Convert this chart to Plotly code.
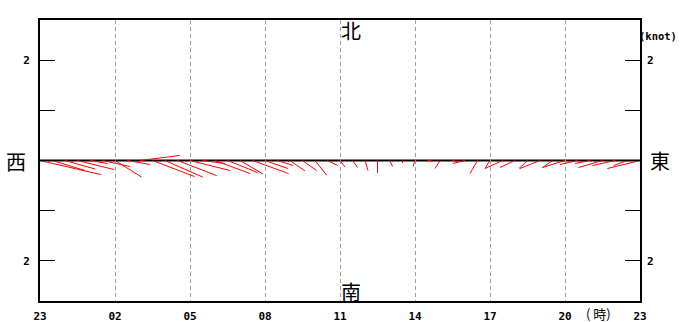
import plotly.graph_objects as go

# ---- data ----
hours = [i * 0.5 for i in range(49)]  # 23:00 .. 23:00 next day, every 30 min
u_east = [1.21, 0.65, 0.60, 0.73, 0.35, 0.55, 0.53, 0.45, 0.79, 0.84,
          0.75, 0.78, 0.80, 0.45, 0.70, 0.60, 0.46, 0.72, 0.46, 0.31,
          0.30, 0.28, 0.23, 0.20, 0.10, 0.10, 0.06, 0.00, 0.05, 0.00,
          -0.04, 0.10, -0.10, 0.10, -0.24, -0.15, -0.10, -0.35, -0.30, -0.17,
          -0.40, -0.20, -0.45, -0.35, -0.30, -0.48, -0.45, -0.28, -0.65]
v_north = [-0.28, -0.20, -0.17, -0.18, -0.06, -0.12, -0.33, -0.08, 0.10, -0.32,
           -0.33, -0.30, -0.20, -0.06, -0.26, -0.24, -0.27, -0.26, -0.16, -0.10,
           -0.21, -0.20, -0.29, -0.10, -0.13, -0.14, -0.20, -0.25, -0.12, -0.05,
           -0.12, -0.01, -0.16, -0.02, -0.06, -0.26, -0.16, -0.16, -0.14, -0.16,
           -0.16, -0.14, -0.14, -0.08, -0.06, -0.14, -0.10, -0.10, -0.16]
xtick_vals = [0, 3, 6, 9, 12, 15, 18, 21, 24]
xtick_text = ["23", "02", "05", "08", "11", "14", "17", "20", "23"]
ytick_vals = [-2, -1, 0, 1, 2]
ytick_text = ["2", "", "", "", "2"]

# ---- layout geometry ----
W, H = 680, 322
ML, MR, MT, MB = 40, 40, 20, 21
XR = [0, 24]
YR = [-2.8, 2.8]
px_per_x = (W - ML - MR) / (XR[1] - XR[0])
px_per_y = (H - MT - MB) / (YR[1] - YR[0])
xscale = px_per_y / px_per_x  # hours per knot so sticks keep true direction

sx, sy = [], []
for t, u, v in zip(hours, u_east, v_north):
    sx += [t, t + u * xscale, None]
    sy += [0, v, None]

fig = go.Figure()
fig.add_trace(go.Scatter(x=sx, y=sy, mode="lines",
                         line=dict(color="#ff0000", width=1),
                         hoverinfo="skip", showlegend=False))
fig.add_trace(go.Scatter(x=[0], y=[0], yaxis="y2", mode="markers",
                         marker=dict(opacity=0), hoverinfo="skip", showlegend=False))

tickfont = dict(family="DejaVu Sans Mono", size=11, color="black", weight="bold")
fig.update_layout(
    width=W, height=H,
    margin=dict(l=ML, r=MR, t=MT, b=MB, pad=0, autoexpand=False),
    paper_bgcolor="white", plot_bgcolor="white",
    showlegend=False,
    xaxis=dict(range=XR, tickvals=xtick_vals, ticktext=xtick_text,
               showgrid=True, gridcolor="#a0a0a0", griddash="4px,3px", gridwidth=1,
               showline=True, linecolor="black", linewidth=2, mirror=True,
               ticks="", zeroline=False, tickfont=tickfont, fixedrange=True,
               automargin=False, ticklabelstandoff=4),
    yaxis=dict(range=YR, tickvals=ytick_vals, ticktext=ytick_text,
               showgrid=False, zeroline=False,
               showline=True, linecolor="black", linewidth=2, mirror=True,
               ticks="inside", ticklen=15, tickcolor="black", tickwidth=1,
               tickfont=tickfont, ticklabelstandoff=6, fixedrange=True,
               automargin=False),
    yaxis2=dict(range=YR, overlaying="y", side="right", tickvals=ytick_vals,
                ticktext=ytick_text, showgrid=False, zeroline=False,
                ticks="inside", ticklen=15, tickcolor="black", tickwidth=1,
                tickfont=tickfont, ticklabelstandoff=6, fixedrange=True,
                automargin=False),
    shapes=[dict(type="line", xref="paper", yref="y", x0=0, x1=1, y0=0, y1=0,
                 line=dict(color="black", width=2), layer="below")],
)

def pxp(px, py):
    return (px - ML) / (W - ML - MR), (H - MB - py) / (H - MT - MB)

cjk = dict(family="Noto Sans CJK JP", size=20, color="black")
for txt, px, py in [("西", 16, 161), ("東", 660, 160), ("北", 351, 31), ("南", 351, 291)]:
    x, y = pxp(px, py)
    fig.add_annotation(text=txt, x=x, y=y, xref="paper", yref="paper",
                       showarrow=False, font=cjk, xanchor="center", yanchor="middle")

x, y = pxp(678, 36)
fig.add_annotation(text="(knot)", x=x, y=y, xref="paper", yref="paper", showarrow=False,
                   font=dict(family="DejaVu Sans Mono", size=10.5, color="black", weight="bold"),
                   xanchor="right", yanchor="middle", borderpad=0)
x, y = pxp(598, 313)
fig.add_annotation(text="( 時)", x=x, y=y, xref="paper", yref="paper", showarrow=False,
                   font=dict(family="Noto Sans CJK JP", size=13, color="black"),
                   xanchor="center", yanchor="middle")

fig.write_html("out.html")
